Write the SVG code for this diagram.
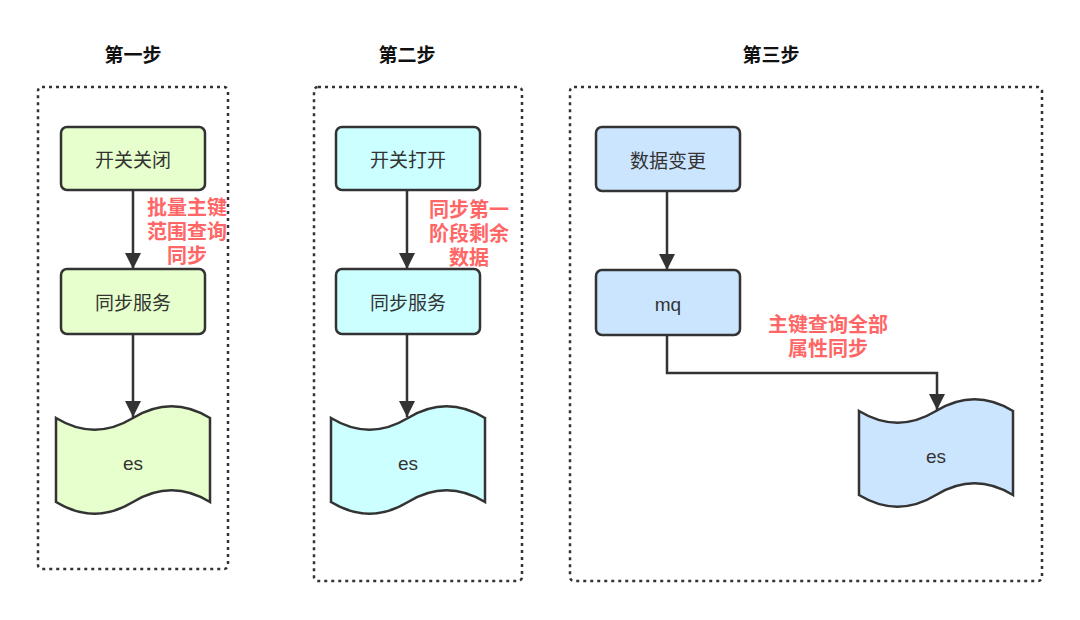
<svg xmlns="http://www.w3.org/2000/svg" width="1080" height="620" viewBox="0 0 1080 620">
<defs>
<style>
.frame{fill:none;stroke:#333;stroke-width:2.5;stroke-dasharray:3 4}
.box{stroke:#333;stroke-width:2.5}
.g{fill:#E6FFCC}.c{fill:#CCFFFF}.b{fill:#CCE5FF}
.t{font-family:"Liberation Sans","Noto Sans CJK SC",sans-serif;font-size:19px;fill:#333;text-anchor:middle;dominant-baseline:central}
.title{font-family:"Liberation Sans","Noto Sans CJK SC",sans-serif;font-size:19px;font-weight:bold;fill:#111;text-anchor:middle;dominant-baseline:central}
.lbl{font-family:"Liberation Sans","Noto Sans CJK SC",sans-serif;font-size:20px;font-weight:bold;fill:#FF6666;text-anchor:middle;dominant-baseline:central}
.edge{fill:none;stroke:#333;stroke-width:2.5}
</style>
<marker id="arr" viewBox="0 0 16 22" refX="16" refY="8" markerWidth="16" markerHeight="22" markerUnits="userSpaceOnUse" orient="auto">
<path d="M0,0 L16,8 L0,16 Z" fill="#333"/>
</marker>
<path id="tape" d="M0,13 Q38.5,36.4 77,13 Q115.5,-10.4 154,13 L154,97 Q115.5,73.6 77,97 Q38.5,120.4 0,97 Z"/>
</defs>

<g id="step1">
<text class="title" x="133" y="55">第一步</text>
<rect class="frame" x="38" y="87" width="190" height="482" rx="4"/>
</g>
<g id="step2">
<text class="title" x="407" y="55">第二步</text>
<rect class="frame" x="314" y="87" width="208" height="494" rx="4"/>
</g>
<g id="step3">
<text class="title" x="771" y="55">第三步</text>
<rect class="frame" x="570" y="87" width="472" height="494" rx="4"/>
</g>

<g id="connectors">
<line class="edge" x1="133" y1="190" x2="133" y2="269" marker-end="url(#arr)"/>
<line class="edge" x1="133" y1="334" x2="133" y2="417" marker-end="url(#arr)"/>
<line class="edge" x1="407" y1="190" x2="407" y2="269" marker-end="url(#arr)"/>
<line class="edge" x1="407" y1="334" x2="407" y2="417" marker-end="url(#arr)"/>
<line class="edge" x1="667" y1="191" x2="667" y2="270" marker-end="url(#arr)"/>
<polyline class="edge" points="667,335 667,373 937,373 937,410" marker-end="url(#arr)"/>
<text class="lbl" x="187" y="208">批量主键</text>
<text class="lbl" x="187" y="232">范围查询</text>
<text class="lbl" x="187" y="256">同步</text>
<text class="lbl" x="469" y="210">同步第一</text>
<text class="lbl" x="469" y="234">阶段剩余</text>
<text class="lbl" x="469" y="258">数据</text>
<text class="lbl" x="828" y="325">主键查询全部</text>
<text class="lbl" x="828" y="349">属性同步</text>
</g>

<g id="n1">
<rect class="box g" x="61" y="127" width="144" height="63" rx="6"/>
<text class="t" x="133" y="160">开关关闭</text>
</g>
<g id="n2">
<rect class="box g" x="61" y="269" width="144" height="65" rx="6"/>
<text class="t" x="133" y="303">同步服务</text>
</g>
<g id="n3">
<use href="#tape" class="box g" x="56" y="405"/>
<text class="t" x="133" y="463">es</text>
</g>
<g id="n4">
<rect class="box c" x="336" y="127" width="144" height="63" rx="6"/>
<text class="t" x="408" y="160">开关打开</text>
</g>
<g id="n5">
<rect class="box c" x="336" y="269" width="144" height="65" rx="6"/>
<text class="t" x="408" y="303">同步服务</text>
</g>
<g id="n6">
<use href="#tape" class="box c" x="331" y="405"/>
<text class="t" x="408" y="463">es</text>
</g>
<g id="n7">
<rect class="box b" x="596" y="127" width="144" height="64" rx="6"/>
<text class="t" x="668" y="161">数据变更</text>
</g>
<g id="n8">
<rect class="box b" x="596" y="270" width="144" height="65" rx="6"/>
<text class="t" x="668" y="304">mq</text>
</g>
<g id="n9">
<use href="#tape" class="box b" x="859" y="398"/>
<text class="t" x="936" y="456">es</text>
</g>
</svg>
